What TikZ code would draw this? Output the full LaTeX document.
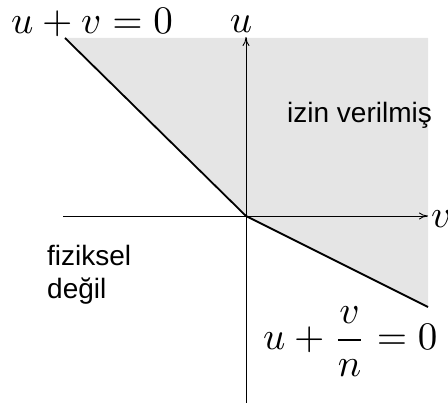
\documentclass[tikz,border=0pt]{standalone}
\usepackage{amsmath}
\usepackage{graphicx}
\usepackage{fontspec}
\usetikzlibrary{arrows.meta}
\newfontfamily\labelsans{Liberation Sans}
\definecolor{regiongray}{HTML}{E5E5E5}
\newcommand{\bigmath}[1]{\scalebox{3.9}{$#1$}}
\begin{document}
\begin{tikzpicture}[x=1pt,y=-1pt,
  mathlbl/.style={inner sep=0pt},
  sanslbl/.style={inner sep=0pt,font=\labelsans\fontsize{28}{33}\selectfont},
  axisline/.style={line width=0.9pt,-{To[length=9pt,width=7pt]}},
  boundary/.style={line width=1.8pt}]
\useasboundingbox (0,0) rectangle (448,403);
\coordinate (O) at (246,216);
\coordinate (A) at (65,38);
\coordinate (B) at (428,307);
\coordinate (TR) at (428,38);
\coordinate (XL) at (63,216);
\coordinate (XR) at (428,216);
\coordinate (YB) at (246,403);
\coordinate (YT) at (246,37);
\fill[regiongray] (A) -- (TR) -- (B) -- (O) -- cycle;
\draw[axisline] (XL) -- (XR);
\draw[axisline] (YB) -- (YT);
\draw[boundary] (A) -- (O) -- (B);
\node[mathlbl,anchor=base west] (l1) at (11,34) {\bigmath{u+v=0}};
\node[mathlbl,anchor=base] (lu) at (241,33) {\bigmath{u}};
\node[mathlbl,anchor=base west] (lv) at (431,228) {\bigmath{v}};
\node[mathlbl,anchor=base west] (l2) at (263,350) {\bigmath{u+\dfrac{v}{n}=0}};
\node[sanslbl,anchor=base west] (al) at (287,123) {izin verilmiş};
\node[sanslbl,anchor=base west,align=left] (nf) at (47,299) {fiziksel\\değil};
\end{tikzpicture}
\end{document}
